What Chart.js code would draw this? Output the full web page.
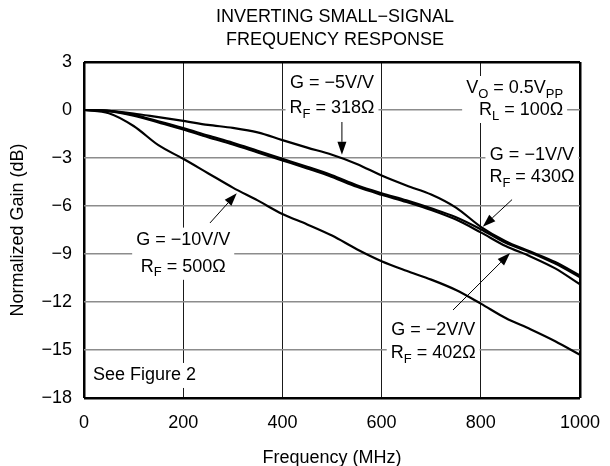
<!DOCTYPE html>
<html>
<head>
<meta charset="utf-8">
<script src="https://cdn.jsdelivr.net/npm/chart.js@4.4.0/dist/chart.umd.min.js"></script>
<style>
  html, body { margin: 0; padding: 0; background: #fff; }
  #wrap { width: 610px; height: 466px; }
</style>
</head>
<body>
<div id="wrap"><canvas id="gainChart" width="610" height="466"></canvas></div>
<script>
// frequency points (MHz) and normalized gain (dB)
const freq = [0, 50, 100, 150, 200, 250, 300, 350, 400, 450, 500, 550, 600, 650, 700, 750, 800, 850, 900, 950, 1000];
const gainG5 = [0, -0.05, -0.22, -0.45, -0.68, -0.93, -1.12, -1.4, -1.88, -2.35, -2.8, -3.37, -4.1, -4.72, -5.28, -6.1, -7.3, -8.2, -8.85, -9.5, -10.35];
const gainG1 = [0, -0.05, -0.3, -0.7, -1.13, -1.6, -2.05, -2.55, -3.05, -3.55, -4.08, -4.7, -5.2, -5.65, -6.15, -6.7, -7.45, -8.3, -8.9, -9.6, -10.45];
const gainG2 = [0, -0.07, -0.35, -0.78, -1.22, -1.7, -2.15, -2.65, -3.15, -3.65, -4.18, -4.8, -5.3, -5.75, -6.25, -6.85, -7.65, -8.5, -9.15, -9.9, -10.9];
const gainG10 = [0, -0.2, -1.0, -2.2, -3.05, -3.95, -4.85, -5.65, -6.5, -7.15, -7.85, -8.7, -9.45, -10.05, -10.6, -11.25, -12.1, -13.0, -13.7, -14.45, -15.3];

const xTicks = [0, 200, 400, 600, 800, 1000];
const yTicks = [3, 0, -3, -6, -9, -12, -15, -18];

const titleLines = ['INVERTING SMALL\u2212SIGNAL', 'FREQUENCY RESPONSE'];
const xTitle = 'Frequency (MHz)';
const yTitle = 'Normalized Gain (dB)';

const FONT = "'Liberation Sans', Arial, sans-serif";

// text notes: each line is a list of [text, isSubscript]
const notes = [
    {x: 500, y: [1.69, 0.12], align: 'center', lines: [[['G = \u22125V/V']], [['R'], ['F', 1], [' = 318\u03A9']]]},
    {x: 966, y: [1.375, 0], align: 'right', lines: [[['V'], ['O', 1], [' = 0.5V'], ['PP', 1]], [['R'], ['L', 1], [' = 100\u03A9']]]},
    {x: 903, y: [-2.8, -4.2], align: 'center', lines: [[['G = \u22121V/V']], [['R'], ['F', 1], [' = 430\u03A9']]]},
    {x: 200, y: [-8.1, -9.8], align: 'center', lines: [[['G = \u221210V/V']], [['R'], ['F', 1], [' = 500\u03A9']]]},
    {x: 704, y: [-13.75, -15.2], align: 'center', lines: [[['G = \u22122V/V']], [['R'], ['F', 1], [' = 402\u03A9']]]},
    {x: 18, y: [-16.56], align: 'left', lines: [[['See Figure 2']]]}
];

// arrows: [fromX, fromY, toX, toY] in data units
const arrows = [
    [520, -0.75, 520, -2.8],
    [863, -5.6, 804, -7.3],
    [254, -7.06, 308, -5.2],
    [744, -12.5, 859, -8.94]
];

function partsWidth(ctx, parts) {
    var w = 0;
    parts.forEach(function (p) {
        ctx.font = (p[1] ? '13px ' : '18px ') + FONT;
        w += ctx.measureText(p[0]).width;
    });
    return w;
}

function drawParts(ctx, parts, x, y) {
    parts.forEach(function (p) {
        ctx.font = (p[1] ? '13px ' : '18px ') + FONT;
        ctx.fillText(p[0], x, p[1] ? y + 6 : y);
        x += ctx.measureText(p[0]).width;
    });
}

const notesPlugin = {
    id: 'notes',
    beforeDatasetsDraw: function (chart) {
        var ctx = chart.ctx;
        var xs = chart.scales.x, ys = chart.scales.y;
        ctx.save();
        ctx.textBaseline = 'middle';
        notes.forEach(function (n) {
            var px = xs.getPixelForValue(n.x);
            var widths = n.lines.map(function (l) { return partsWidth(ctx, l); });
            var maxW = Math.max.apply(null, widths);
            var left = n.align === 'center' ? px - maxW / 2 : (n.align === 'right' ? px - maxW : px);
            var top = ys.getPixelForValue(n.y[0]) - 12;
            var bottom = ys.getPixelForValue(n.y[n.y.length - 1]) + 13;
            ctx.fillStyle = '#fff';
            ctx.fillRect(left - 4, top, maxW + 8, bottom - top);
            ctx.fillStyle = '#000';
            n.lines.forEach(function (l, i) {
                var lx = n.align === 'center' ? px - widths[i] / 2 : (n.align === 'right' ? px - widths[i] : px);
                drawParts(ctx, l, lx, ys.getPixelForValue(n.y[i]));
            });
        });
        ctx.restore();
    },
    afterDatasetsDraw: function (chart) {
        var ctx = chart.ctx;
        var xs = chart.scales.x, ys = chart.scales.y;
        ctx.save();
        ctx.strokeStyle = '#000';
        ctx.fillStyle = '#000';
        ctx.lineWidth = 1;
        arrows.forEach(function (a) {
            var x1 = xs.getPixelForValue(a[0]), y1 = ys.getPixelForValue(a[1]);
            var x2 = xs.getPixelForValue(a[2]), y2 = ys.getPixelForValue(a[3]);
            var ang = Math.atan2(y2 - y1, x2 - x1);
            var len = 13, half = 4.5;
            var bx = x2 - len * Math.cos(ang), by = y2 - len * Math.sin(ang);
            ctx.beginPath();
            ctx.moveTo(x1, y1);
            ctx.lineTo(bx, by);
            ctx.stroke();
            ctx.beginPath();
            ctx.moveTo(x2, y2);
            ctx.lineTo(bx + half * Math.sin(ang), by - half * Math.cos(ang));
            ctx.lineTo(bx - half * Math.sin(ang), by + half * Math.cos(ang));
            ctx.closePath();
            ctx.fill();
        });
        ctx.restore();
    },
    afterDraw: function (chart) {
        var ctx = chart.ctx;
        var area = chart.chartArea;
        ctx.save();
        ctx.fillStyle = '#000';
        ctx.font = '18px ' + FONT;
        ctx.textAlign = 'center';
        ctx.textBaseline = 'middle';
        ctx.fillText(titleLines[0], 335, 17);
        ctx.fillText(titleLines[1], 335, 40);
        ctx.fillText(xTitle, (area.left + area.right) / 2, 458);
        ctx.translate(18, (area.top + area.bottom) / 2);
        ctx.rotate(-Math.PI / 2);
        ctx.fillText(yTitle, 0, 0);
        ctx.restore();
    }
};

function series(values) {
    return values.map(function (v, i) { return {x: freq[i], y: v}; });
}

function lineSet(label, values) {
    return {
        label: label,
        data: series(values),
        borderColor: '#000',
        borderWidth: 2.2,
        pointRadius: 0,
        fill: false,
        cubicInterpolationMode: 'monotone'
    };
}

var ctx = document.getElementById('gainChart');
new Chart(ctx, {
    type: 'line',
    data: {
        datasets: [
            lineSet('G = -5V/V', gainG5),
            lineSet('G = -1V/V', gainG1),
            lineSet('G = -2V/V', gainG2),
            lineSet('G = -10V/V', gainG10)
        ]
    },
    options: {
        responsive: false,
        animation: false,
        layout: {padding: {top: 62, right: 30, left: 0, bottom: 0}},
        plugins: {legend: {display: false}, tooltip: {enabled: false}},
        scales: {
            x: {
                type: 'linear',
                min: 0,
                max: 1000,
                afterFit: function (s) { s.height = 68; s.paddingRight = 0; },
                afterBuildTicks: function (s) { s.ticks = xTicks.map(function (v) { return {value: v}; }); },
                border: {display: false},
                grid: {
                    drawTicks: false,
                    color: function (c) { return (c.tick.value === 0 || c.tick.value === 1000) ? '#000' : '#1a1a1a'; },
                    lineWidth: function (c) { return (c.tick.value === 0 || c.tick.value === 1000) ? 2.5 : 1; }
                },
                ticks: {
                    color: '#000',
                    font: {family: FONT, size: 18},
                    padding: 14,
                    maxRotation: 0,
                    callback: function (v) { return String(v); }
                }
            },
            y: {
                type: 'linear',
                min: -18,
                max: 3,
                afterFit: function (s) { s.width = 84; },
                afterBuildTicks: function (s) { s.ticks = yTicks.map(function (v) { return {value: v}; }); },
                border: {display: false},
                grid: {
                    drawTicks: false,
                    color: function (c) { return (c.tick.value === 3 || c.tick.value === -18) ? '#000' : '#8c8c8c'; },
                    lineWidth: function (c) { return (c.tick.value === 3 || c.tick.value === -18) ? 2.5 : 1.5; }
                },
                ticks: {
                    color: '#000',
                    font: {family: FONT, size: 18},
                    padding: 12,
                    callback: function (v) { return String(v).replace('-', '\u2212'); }
                }
            }
        }
    },
    plugins: [notesPlugin]
});
</script>
</body>
</html>
